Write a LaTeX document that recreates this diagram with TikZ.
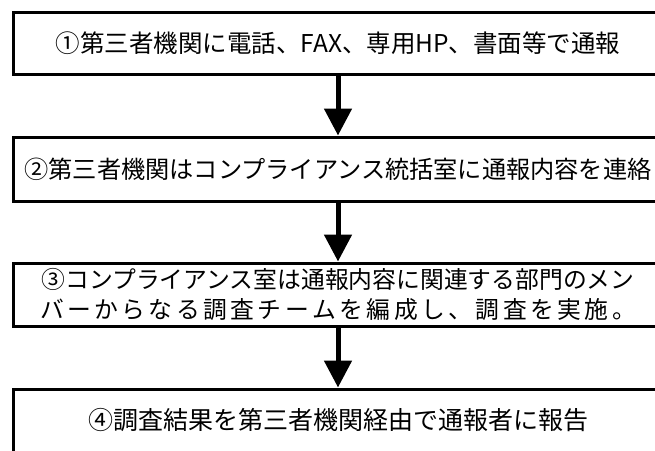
\documentclass[tikz,border=0pt]{standalone}
\usepackage{fontspec}
\newfontfamily\jp{Noto Sans CJK JP}
\usetikzlibrary{arrows.meta}
\begin{document}
\begin{tikzpicture}[x=1pt,y=-1pt,
  box/.style={draw,line width=3pt,minimum width=649pt,inner sep=0pt,align=center},
  arr/.style={line width=5pt,-{Triangle[width=27pt,length=27pt]}}]
\useasboundingbox (0,0) rectangle (655,450);
\node[box,minimum height=61.5pt,font=\jp\fontsize{24.5}{30}\selectfont] (b1) at (338,43.25)
  {①第三者機関に電話、FAX、専用HP、書面等で通報};
\node[box,minimum height=64pt,font=\jp\fontsize{24.2}{30}\selectfont] (b2) at (338,169)
  {②第三者機関はコンプライアンス統括室に通報内容を連絡};
\node[box,minimum height=63pt,font=\jp\fontsize{23.8}{30}\selectfont] (b3) at (338,294.5)
  {③コンプライアンス室は通報内容に関連する部門のメン\\
   \makebox[596pt][s]{バ\hfill ー\hfill か\hfill ら\hfill な\hfill る\hfill 調\hfill 査\hfill チ\hfill ー\hfill ム\hfill を\hfill 編\hfill 成\hfill し\hfill 、\hfill 調\hfill 査\hfill を\hfill 実\hfill 施\hfill 。}};
\node[box,minimum height=63pt,font=\jp\fontsize{25}{30}\selectfont] (b4) at (338,420.5)
  {④調査結果を第三者機関経由で通報者に報告};
\draw[arr] (b1.south) -- (b2.north);
\draw[arr] (b2.south) -- (b3.north);
\draw[arr] (b3.south) -- (b4.north);
\end{tikzpicture}
\end{document}
